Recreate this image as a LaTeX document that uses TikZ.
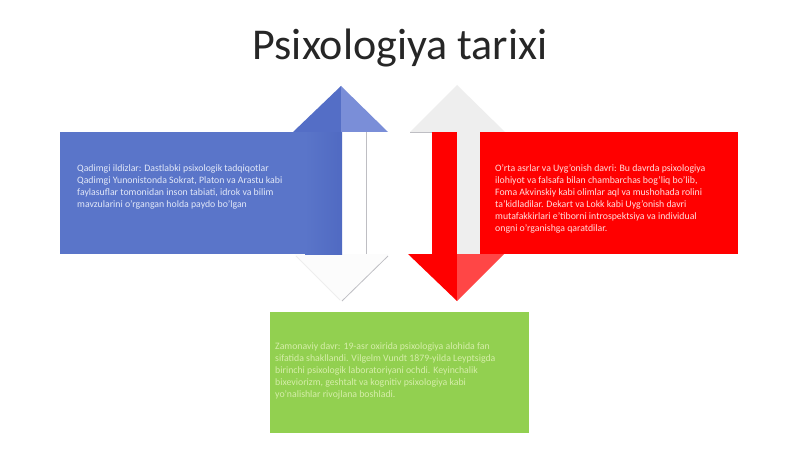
\documentclass[tikz,border=0pt]{standalone}
\usepackage{fontspec}
\setmainfont{Carlito}
\definecolor{bluemain}{RGB}{90,117,201}
\definecolor{bluedark}{RGB}{80,106,194}
\definecolor{bluehead}{RGB}{84,110,198}
\definecolor{bluelight}{RGB}{122,142,216}
\definecolor{redmain}{RGB}{255,0,0}
\definecolor{redlight}{RGB}{255,70,70}
\definecolor{greenmain}{RGB}{146,208,80}
\definecolor{ghost}{RGB}{238,238,238}
\definecolor{ghostline}{RGB}{190,190,195}
\definecolor{bluetext}{RGB}{226,232,248}
\definecolor{redtext}{RGB}{255,222,222}
\definecolor{greentext}{RGB}{214,238,170}
\tikzset{
  bodytext/.style={anchor=north west, inner sep=0pt, align=left,
    font=\fontsize{9.8}{12}\selectfont},
  titletext/.style={anchor=base, inner sep=0pt,
    font=\fontsize{44}{50}\selectfont, text=black!85},
}
\begin{document}
\begin{tikzpicture}[x=1pt,y=-1pt]
\path[use as bounding box, fill=white] (0,0) rectangle (800,449);

% title
\node[titletext] (title) at (400,60) {Psixologiya tarixi};

% ---- blue panel with up arrow ----
\fill[ghost!20] (295,254) -- (388,254) -- (341,301) -- cycle;
\draw[ghostline, line width=0.8pt] (388,256) -- (342,301);
\draw[ghost, line width=0.8pt] (296,256) -- (340,300);
\fill[bluemain] (60,132) rectangle (342,254);
\shade[left color=bluemain, right color=bluedark] (305,132) rectangle (342,254);
\fill[bluehead] (293,132) -- (341,86) -- (341,132) -- cycle;
\fill[bluelight] (341,86) -- (388,132) -- (341,132) -- cycle;
\draw[ghostline, line width=0.8pt] (366,132) -- (366,254);

% ---- red panel with down arrow ----
\fill[ghost] (410,132) -- (457,85) -- (505,132) -- cycle;
\draw[ghostline, line width=0.8pt] (410,132) -- (432,132);
\fill[ghost] (457,132) rectangle (480,254);
\fill[redmain] (432,132) rectangle (457,254);
\fill[redmain] (480,132) rectangle (738,254);
\fill[redmain] (408,254) -- (457,254) -- (457,301) -- cycle;
\fill[redlight] (457,254) -- (504,254) -- (457,301) -- cycle;

% ---- green panel ----
\fill[greenmain] (270,312) rectangle (529,433);

% texts
\node[bodytext, text=bluetext] (bluetxt) at (77,164) {Qadimgi ildizlar: Dastlabki psixologik tadqiqotlar\\
Qadimgi Yunonistonda Sokrat, Platon va Arastu kabi\\
faylasuflar tomonidan inson tabiati, idrok va bilim\\
mavzularini o'rgangan holda paydo bo'lgan};

\node[bodytext, text=redtext] (redtxt) at (495,164) {O'rta asrlar va Uyg'onish davri: Bu davrda psixologiya\\
ilohiyot va falsafa bilan chambarchas bog'liq bo'lib,\\
Foma Akvinskiy kabi olimlar aql va mushohada rolini\\
ta'kidladilar. Dekart va Lokk kabi Uyg'onish davri\\
mutafakkirlari e'tiborni introspektsiya va individual\\
ongni o'rganishga qaratdilar.};

\node[bodytext, text=greentext] (greentxt) at (275,342) {Zamonaviy davr: 19-asr oxirida psixologiya alohida fan\\
sifatida shakllandi. Vilgelm Vundt 1879-yilda Leyptsigda\\
birinchi psixologik laboratoriyani ochdi. Keyinchalik\\
bixeviorizm, geshtalt va kognitiv psixologiya kabi\\
yo'nalishlar rivojlana boshladi.};
\end{tikzpicture}
\end{document}
